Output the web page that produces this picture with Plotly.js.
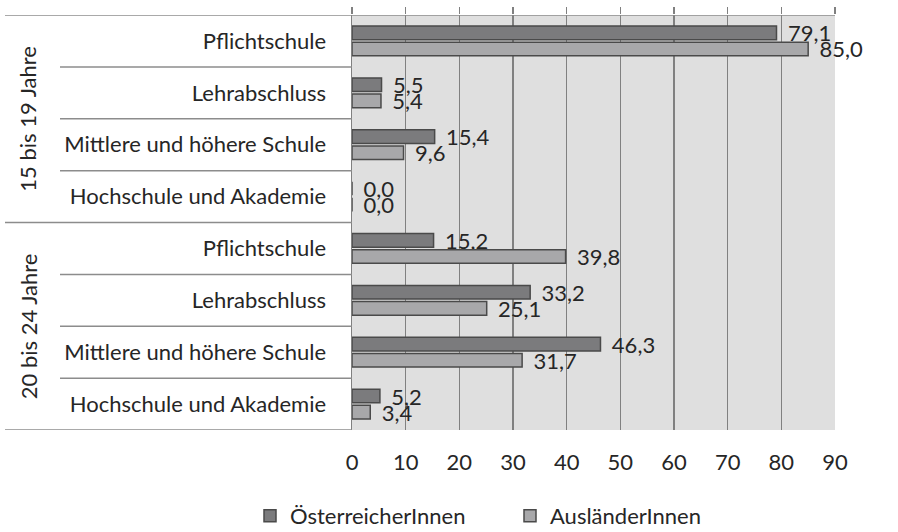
<!DOCTYPE html>
<html>
<head>
<meta charset="utf-8">
<script src="https://cdn.plot.ly/plotly-3.0.1.min.js"></script>
<style>html,body{margin:0;padding:0;background:#fff}#chart{width:898px;height:532px}</style>
</head>
<body>
<div id="chart"></div>
<script>
const categories = ["Pflichtschule", "Lehrabschluss", "Mittlere und höhere Schule", "Hochschule und Akademie",
                    "Pflichtschule", "Lehrabschluss", "Mittlere und höhere Schule", "Hochschule und Akademie"];
const groups = ["15 bis 19 Jahre", "20 bis 24 Jahre"];
const seriesNames = ["ÖsterreicherInnen", "AusländerInnen"];
const oesterreicher = [79.1, 5.5, 15.4, 0.0, 15.2, 33.2, 46.3, 5.2];
const auslaender = [85.0, 5.4, 9.6, 0.0, 39.8, 25.1, 31.7, 3.4];
const xTicks = [0, 10, 20, 30, 40, 50, 60, 70, 80, 90];

const pos = categories.map((c, i) => i);
const FONT = "Lato, 'Open Sans', sans-serif";
const TXT = "#262626";
const FS = 22;

function barTrace(name, vals, fill) {
  return {
    type: "bar", orientation: "h", name: name,
    x: vals, y: pos,
    marker: {color: fill, line: {color: "#4a4a4a", width: 1.5}},
    texttemplate: "\u2009\u00a0%{x:.1f}",
    textposition: "outside",
    constraintext: "none",
    cliponaxis: false,
    textfont: {family: FONT, size: FS, color: TXT},
    hoverinfo: "x+y"
  };
}

const data = [
  barTrace(seriesNames[0], oesterreicher, "#7b7b7d"),
  barTrace(seriesNames[1], auslaender, "#a8a8aa"),
  {type: "scatter", mode: "markers", x: oesterreicher, y: pos, xaxis: "x2", yaxis: "y",
   marker: {opacity: 0}, showlegend: false, hoverinfo: "skip"}
];

const L = 352, R = 835, T = 15, B = 430;
const W = R - L, H = B - T;
function px(p) { return (p - L) / W; }
function py(p) { return (B - p) / H; }

const shapes = [];
const nCat = categories.length;
const perGroup = nCat / groups.length;
for (let b = 0; b <= nCat; b++) {
  const outer = (b % perGroup === 0);
  shapes.push({
    type: "line", xref: "paper", yref: "y",
    x0: outer ? px(5) : px(60), x1: (b === 0) ? 1 : 0,
    y0: b - 0.5, y1: b - 0.5,
    line: {color: "#8c8c8c", width: 1.5}, layer: "above"
  });
}

const annotations = groups.map((g, gi) => ({
  text: g, xref: "paper", yref: "y",
  x: px(28), y: gi * perGroup + (perGroup - 1) / 2,
  textangle: -90, showarrow: false,
  xanchor: "center", yanchor: "middle",
  font: {family: FONT, size: FS, color: TXT}
}));

const layout = {
  width: 898, height: 532,
  margin: {l: L, r: 898 - R, t: T, b: 532 - B, autoexpand: false},
  paper_bgcolor: "#ffffff",
  plot_bgcolor: "#dfdfdf",
  separators: ",.",
  barmode: "group",
  bargap: 0.38,
  bargroupgap: 0.15,
  font: {family: FONT, size: FS, color: TXT},
  xaxis: {
    range: [0, 90], tickvals: xTicks, ticktext: xTicks.map(String),
    showgrid: true, gridcolor: "#808080", gridwidth: 1.5,
    zeroline: false, showline: false, ticks: "",
    ticklabelstandoff: 17,
    tickfont: {family: FONT, size: FS, color: TXT}
  },
  xaxis2: {
    overlaying: "x", side: "top", anchor: "y", range: [0, 90], tickvals: xTicks,
    showticklabels: false, ticks: "outside", ticklen: 7, tickwidth: 1.5, tickcolor: "#808080",
    showgrid: false, zeroline: false, showline: false
  },
  yaxis: {
    range: [nCat - 0.5, -0.5],
    tickvals: pos, ticktext: categories,
    showgrid: false, zeroline: false,
    showline: true, linecolor: "#808080", linewidth: 1.5,
    ticks: "", ticklabelstandoff: 20,
    tickfont: {family: FONT, size: FS, color: TXT}
  },
  legend: {
    orientation: "h",
    x: px(250), y: py(516),
    xanchor: "left", yanchor: "middle",
    entrywidth: 215, entrywidthmode: "pixels",
    font: {family: FONT, size: FS, color: TXT},
    bgcolor: "rgba(0,0,0,0)"
  },
  shapes: shapes,
  annotations: annotations
};

Plotly.newPlot("chart", data, layout, {displayModeBar: false, staticPlot: true});
</script>
</body>
</html>
